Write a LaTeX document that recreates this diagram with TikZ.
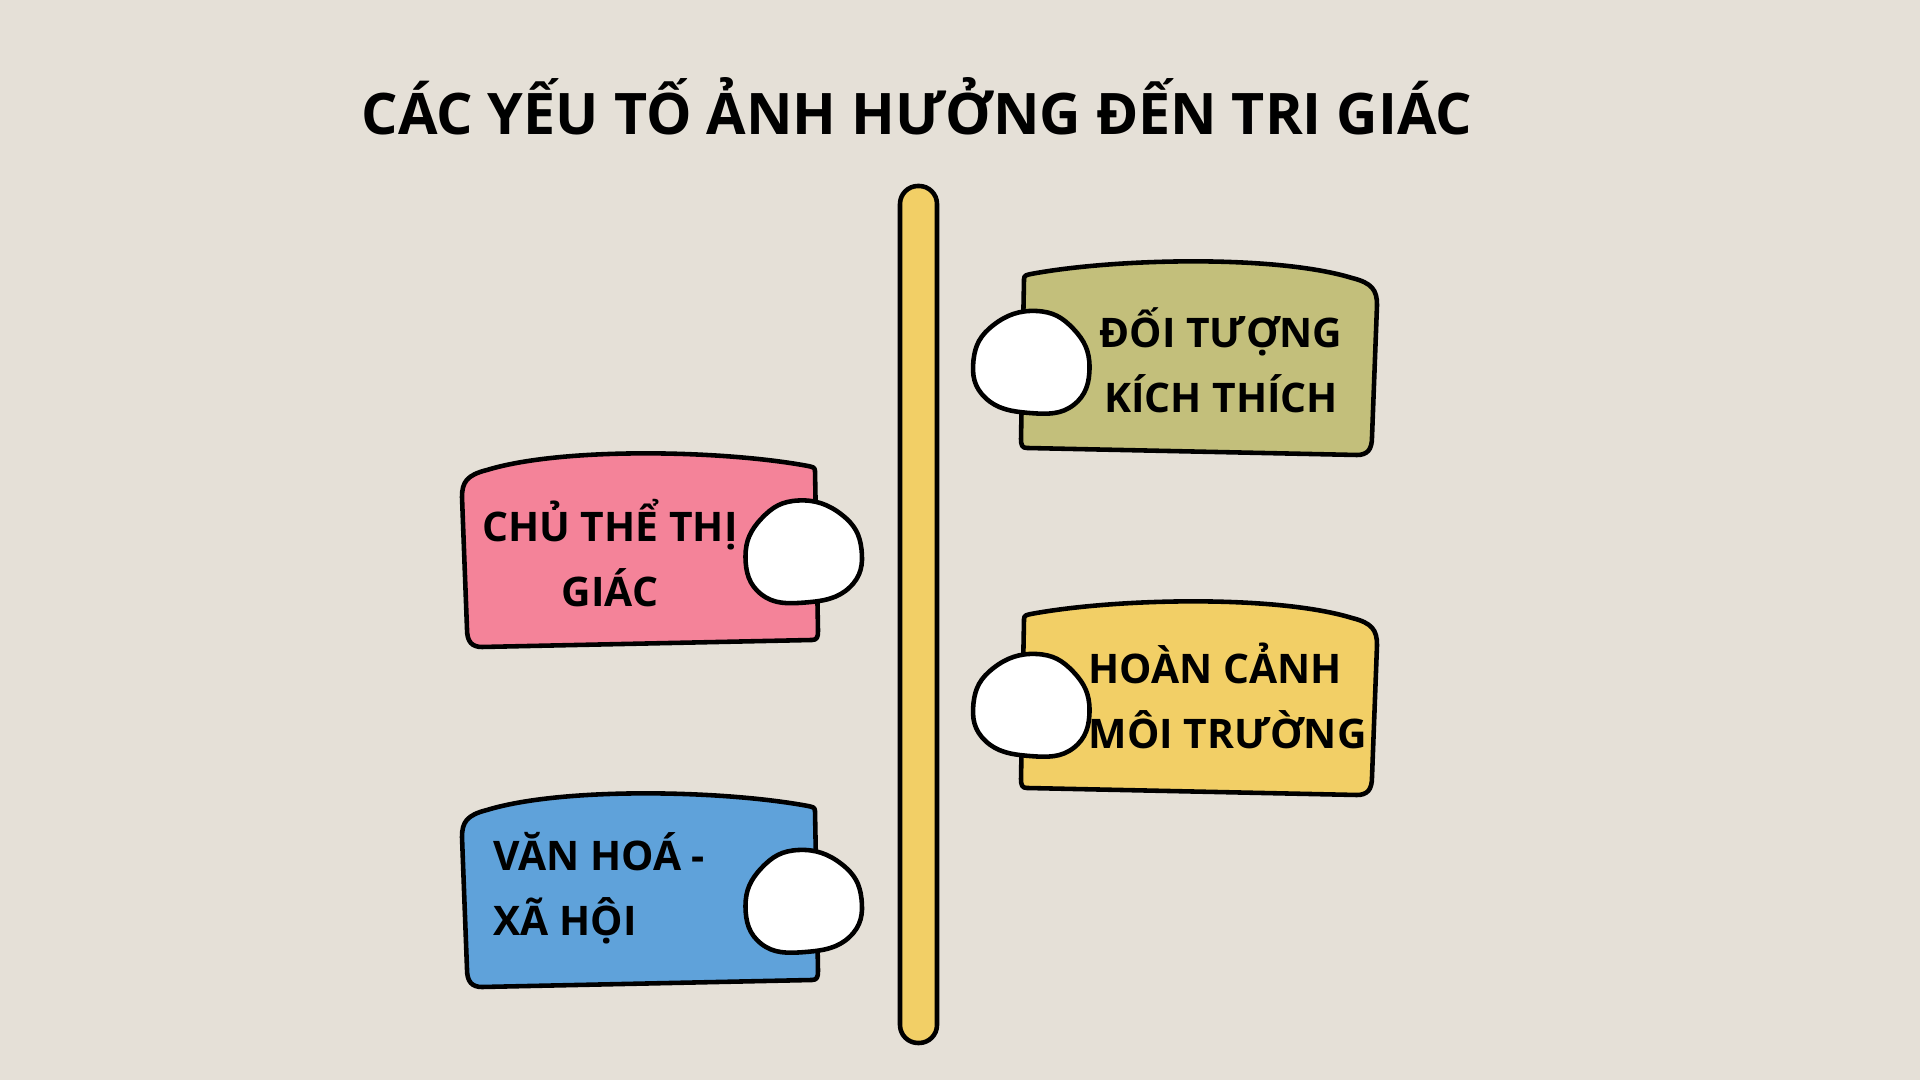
\documentclass[tikz,border=0pt]{standalone}
\usepackage{fontspec}
\setmainfont{Open Sans}
\usepackage{tikz}

\definecolor{bgbeige}{RGB}{229,224,215}
\definecolor{cardolive}{RGB}{195,191,123}
\definecolor{cardyellow}{RGB}{242,207,102}
\definecolor{cardpink}{RGB}{244,131,153}
\definecolor{cardblue}{RGB}{95,162,218}

\begin{document}
\begin{tikzpicture}[
      outline/.style={draw=black, line width=1.3pt, line join=round},
      cardtext/.style={font=\fontsize{11.6}{18.4}\selectfont\bfseries, inner sep=0pt},
      titletext/.style={font=\fontsize{16.3}{20}\selectfont\bfseries, inner sep=0pt},
      card/.pic={
        \draw[outline, pic actions] (0.20,0) -- (3.50,0.07)
          .. controls (3.55,0.07) and (3.56,0.10) .. (3.56,0.16)
          -- (3.53,1.76)
          .. controls (3.53,1.80) and (3.50,1.80) .. (3.46,1.81)
          .. controls (2.60,1.97) and (1.00,2.00) .. (0.25,1.77)
          .. controls (0.05,1.72) and (0,1.65) .. (0,1.50)
          -- (0.05,0.18)
          .. controls (0.05,0.05) and (0.10,0) .. cycle;
      },
      blob/.pic={
        \draw[outline, pic actions] plot[smooth cycle, tension=0.75] coordinates
          {(-0.05,0.51) (0.38,0.37) (0.58,0.02) (0.46,-0.36) (0.02,-0.51)
           (-0.42,-0.43) (-0.58,-0.05) (-0.42,0.33)};
      }
    ]

    \useasboundingbox (0,0) rectangle (19.2,10.8);
    \fill[bgbeige] (0,0) rectangle (19.2,10.8);

    \node[titletext, anchor=base] (title) at (9.17,9.45) {CÁC YẾU TỐ ẢNH HƯỞNG ĐẾN TRI GIÁC};

    % timeline bar
    \draw[outline, fill=cardyellow, rounded corners=0.18cm] (9.00,0.37) rectangle (9.37,8.94);

    % right side
    \pic[fill=cardolive, xscale=-1] at (13.77,6.25) {card};
    \pic[fill=white, xscale=-1] at (10.315,7.18) {blob};
    \node[cardtext, align=center] (stimulus) at (12.21,7.20) {ĐỐI TƯỢNG\\KÍCH THÍCH};

    \pic[fill=cardyellow, xscale=-1] at (13.77,2.85) {card};
    \pic[fill=white, xscale=-1] at (10.315,3.75) {blob};
    \node[cardtext, align=left, anchor=west] (context) at (10.88,3.84) {HOÀN CẢNH\\MÔI TRƯỜNG};

    % left side
    \pic[fill=cardpink] at (4.62,4.33) {card};
    \pic[fill=white] at (8.035,5.285) {blob};
    \node[cardtext, align=center] (subject) at (6.10,5.27) {CHỦ THỂ THỊ\\GIÁC};

    \pic[fill=cardblue] at (4.62,0.93) {card};
    \pic[fill=white] at (8.035,1.79) {blob};
    \node[cardtext, align=left, anchor=west] (culture) at (4.93,1.92) {VĂN HOÁ -\\XÃ HỘI};
  \end{tikzpicture}
\end{document}
